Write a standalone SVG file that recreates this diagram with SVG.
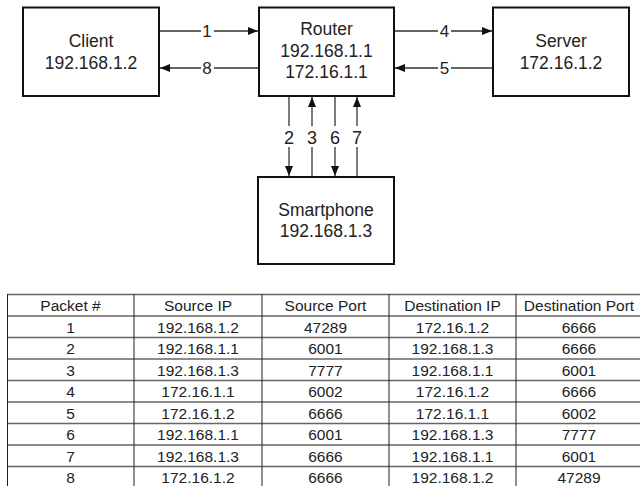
<svg xmlns="http://www.w3.org/2000/svg" width="640" height="486" viewBox="0 0 640 486">
<style>
.box{fill:#fff;stroke:#111;stroke-width:2}
.t{font-family:"Liberation Sans",Arial,sans-serif;font-size:17.5px;fill:#222;text-anchor:middle}
.lb{font-family:"Liberation Sans",Arial,sans-serif;font-size:17px;fill:#222;text-anchor:middle}
.vl{font-family:"Liberation Sans",Arial,sans-serif;font-size:18px;fill:#222;text-anchor:middle}
.c{stroke:#333;stroke-width:1.3;fill:none}
.hl{stroke:#666;stroke-width:1.6}
.vln{stroke:#222;stroke-width:1}
.tt{font-family:"Liberation Sans",Arial,sans-serif;font-size:15.5px;fill:#222;text-anchor:middle}
</style>
<defs>
<marker id="ah" viewBox="0 0 10 10" refX="10" refY="5" markerWidth="10" markerHeight="10" markerUnits="userSpaceOnUse" orient="auto">
<path d="M0,1 L10,5 L0,9 Z" fill="#111"/>
</marker>
</defs>
<rect width="640" height="486" fill="#fff"/>
<g id="client"><rect class="box" x="23" y="7.5" width="136" height="88.5"/><text class="t" x="91" y="47">Client</text><text class="t" x="91" y="68.5">192.168.1.2</text></g>
<g id="router"><rect class="box" x="259" y="7.5" width="135" height="88.5"/><text class="t" x="326.5" y="35">Router</text><text class="t" x="326.5" y="57">192.168.1.1</text><text class="t" x="326.5" y="78">172.16.1.1</text></g>
<g id="server"><rect class="box" x="493" y="7.5" width="136" height="88.5"/><text class="t" x="561" y="47">Server</text><text class="t" x="561" y="68.5">172.16.1.2</text></g>
<g id="smartphone"><rect class="box" x="258" y="177" width="136" height="87"/><text class="t" x="326" y="216">Smartphone</text><text class="t" x="326" y="237">192.168.1.3</text></g>
<g id="connectors">
<line class="c" x1="160" y1="31" x2="201" y2="31"/><line class="c" x1="214" y1="31" x2="258" y2="31" marker-end="url(#ah)"/><text class="lb" x="207" y="37">1</text>
<line class="c" x1="258" y1="68" x2="214" y2="68"/><line class="c" x1="201" y1="68" x2="160" y2="68" marker-end="url(#ah)"/><text class="lb" x="207" y="73.5">8</text>
<line class="c" x1="395" y1="31" x2="438" y2="31"/><line class="c" x1="451" y1="31" x2="492" y2="31" marker-end="url(#ah)"/><text class="lb" x="444.5" y="37">4</text>
<line class="c" x1="492" y1="68" x2="451" y2="68"/><line class="c" x1="438" y1="68" x2="395" y2="68" marker-end="url(#ah)"/><text class="lb" x="444.5" y="73.5">5</text>
<line class="c" x1="289" y1="97" x2="289" y2="126"/><line class="c" x1="289" y1="147" x2="289" y2="176" marker-end="url(#ah)"/><text class="vl" x="289" y="143.5">2</text>
<line class="c" x1="312" y1="176" x2="312" y2="147"/><line class="c" x1="312" y1="126" x2="312" y2="97" marker-end="url(#ah)"/><text class="vl" x="312" y="143.5">3</text>
<line class="c" x1="335" y1="97" x2="335" y2="126"/><line class="c" x1="335" y1="147" x2="335" y2="176" marker-end="url(#ah)"/><text class="vl" x="335" y="143.5">6</text>
<line class="c" x1="357" y1="176" x2="357" y2="147"/><line class="c" x1="357" y1="126" x2="357" y2="97" marker-end="url(#ah)"/><text class="vl" x="357" y="143.5">7</text>
</g>
<g id="table">
<line class="hl" x1="7" y1="294.5" x2="640" y2="294.5"/>
<line class="hl" x1="7" y1="316" x2="640" y2="316"/>
<line class="hl" x1="7" y1="337.5" x2="640" y2="337.5"/>
<line class="hl" x1="7" y1="359" x2="640" y2="359"/>
<line class="hl" x1="7" y1="380.5" x2="640" y2="380.5"/>
<line class="hl" x1="7" y1="402" x2="640" y2="402"/>
<line class="hl" x1="7" y1="423.5" x2="640" y2="423.5"/>
<line class="hl" x1="7" y1="445" x2="640" y2="445"/>
<line class="hl" x1="7" y1="466.5" x2="640" y2="466.5"/>
<line class="vln" x1="7.5" y1="294" x2="7.5" y2="486"/>
<line class="vln" x1="134" y1="294" x2="134" y2="486"/>
<line class="vln" x1="262" y1="294" x2="262" y2="486"/>
<line class="vln" x1="389" y1="294" x2="389" y2="486"/>
<line class="vln" x1="516" y1="294" x2="516" y2="486"/>
<g class="tt">
<text x="70.5" y="311">Packet #</text><text x="198" y="311">Source IP</text><text x="325.5" y="311">Source Port</text><text x="452.5" y="311">Destination IP</text><text x="579" y="311">Destination Port</text>
<text x="70.5" y="332.5">1</text><text x="198" y="332.5">192.168.1.2</text><text x="325.5" y="332.5">47289</text><text x="452.5" y="332.5">172.16.1.2</text><text x="579" y="332.5">6666</text>
<text x="70.5" y="354">2</text><text x="198" y="354">192.168.1.1</text><text x="325.5" y="354">6001</text><text x="452.5" y="354">192.168.1.3</text><text x="579" y="354">6666</text>
<text x="70.5" y="375.5">3</text><text x="198" y="375.5">192.168.1.3</text><text x="325.5" y="375.5">7777</text><text x="452.5" y="375.5">192.168.1.1</text><text x="579" y="375.5">6001</text>
<text x="70.5" y="397">4</text><text x="198" y="397">172.16.1.1</text><text x="325.5" y="397">6002</text><text x="452.5" y="397">172.16.1.2</text><text x="579" y="397">6666</text>
<text x="70.5" y="418.5">5</text><text x="198" y="418.5">172.16.1.2</text><text x="325.5" y="418.5">6666</text><text x="452.5" y="418.5">172.16.1.1</text><text x="579" y="418.5">6002</text>
<text x="70.5" y="440">6</text><text x="198" y="440">192.168.1.1</text><text x="325.5" y="440">6001</text><text x="452.5" y="440">192.168.1.3</text><text x="579" y="440">7777</text>
<text x="70.5" y="461.5">7</text><text x="198" y="461.5">192.168.1.3</text><text x="325.5" y="461.5">6666</text><text x="452.5" y="461.5">192.168.1.1</text><text x="579" y="461.5">6001</text>
<text x="70.5" y="483">8</text><text x="198" y="483">172.16.1.2</text><text x="325.5" y="483">6666</text><text x="452.5" y="483">192.168.1.2</text><text x="579" y="483">47289</text>
</g>
</g>
</svg>
